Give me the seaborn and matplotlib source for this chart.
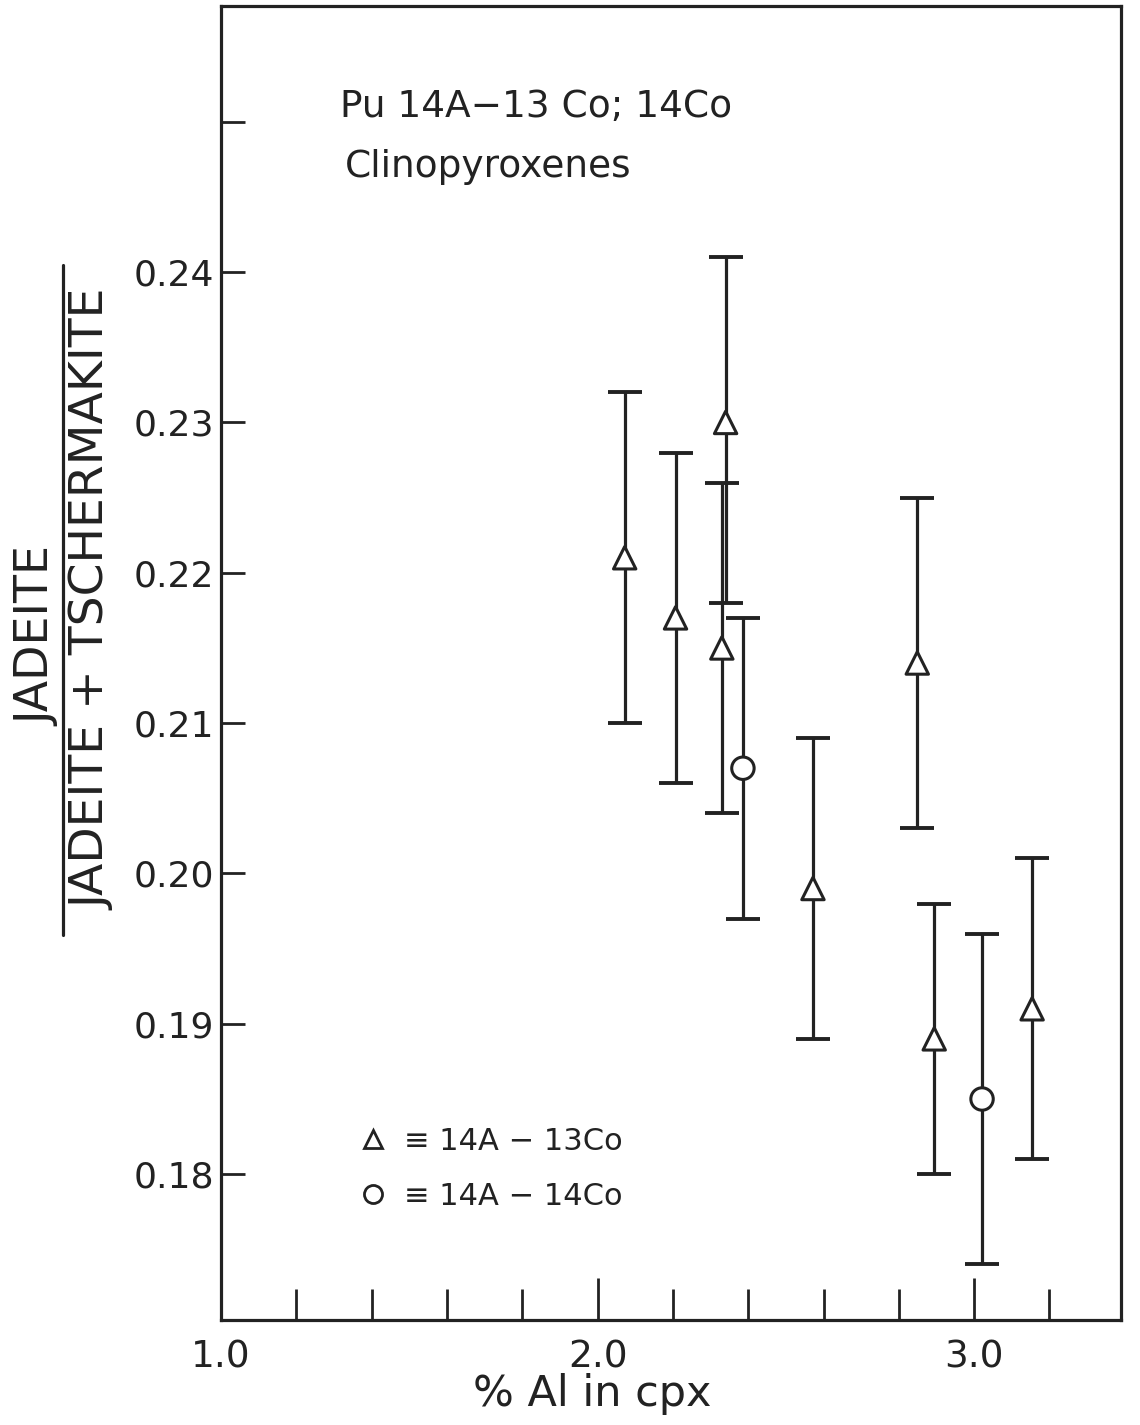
import numpy as np
import pandas as pd
import matplotlib
matplotlib.use("Agg")
import matplotlib.pyplot as plt
import seaborn as sns
from matplotlib.lines import Line2D
from matplotlib.ticker import FixedLocator

# ---------------- data ----------------
sample = ["14A-13Co"] * 8 + ["14A-14Co"] * 2
al_pct = [2.072, 2.207, 2.340, 2.330, 2.572, 2.849, 2.894, 3.154, 2.386, 3.021]
ratio = [0.221, 0.217, 0.230, 0.215, 0.199, 0.214, 0.189, 0.191, 0.207, 0.185]
ratio_low = [0.210, 0.206, 0.218, 0.204, 0.189, 0.203, 0.180, 0.181, 0.197, 0.174]
ratio_high = [0.232, 0.228, 0.241, 0.226, 0.209, 0.225, 0.198, 0.201, 0.217, 0.196]

y_tick_values = [0.18, 0.19, 0.20, 0.21, 0.22, 0.23, 0.24, 0.25]
y_tick_labels = ["0.18", "0.19", "0.20", "0.21", "0.22", "0.23", "0.24", ""]
x_major_values = [1.0, 2.0, 3.0]
x_major_labels = ["1.0", "2.0", "3.0"]
x_minor_values = [1.2, 1.4, 1.6, 1.8, 2.2, 2.4, 2.6, 2.8, 3.2]

title_lines = ["Pu 14A\u221213 Co; 14Co", "Clinopyroxenes"]
legend_labels = ["\u2261 14A \u2212 13Co", "\u2261 14A \u2212 14Co"]
x_label = "% Al in cpx"
y_num = "JADEITE"
y_den = "JADEITE + TSCHERMAKITE"

df = pd.DataFrame({"sample": sample, "al": al_pct, "ratio": ratio,
                   "lo": ratio_low, "hi": ratio_high})

# ---------------- style ----------------
sns.set_style("ticks")
plt.rcParams["font.family"] = ["DejaVu Sans"]
INK = "#222222"

fig = plt.figure(figsize=(11.4, 14.25), dpi=100)
ax = fig.add_axes([221 / 1140, 105 / 1425, 900 / 1140, 1314 / 1425])

# error bars
ax.errorbar(df["al"], df["ratio"],
            yerr=[df["ratio"] - df["lo"], df["hi"] - df["ratio"]],
            fmt="none", ecolor=INK, elinewidth=2.3, capsize=12, capthick=2.8,
            zorder=2)

# markers
sns.scatterplot(data=df, x="al", y="ratio", style="sample",
                markers={"14A-13Co": "^", "14A-14Co": "o"},
                s=260, color="white", edgecolor=INK, linewidth=2.2,
                legend=False, zorder=3, ax=ax)

ax.set_xlim(1.0, 3.39)
ax.set_ylim(0.1703, 0.2577)

# ticks
ax.yaxis.set_major_locator(FixedLocator(y_tick_values))
ax.set_yticklabels(y_tick_labels)
ax.xaxis.set_major_locator(FixedLocator(x_major_values))
ax.set_xticklabels(x_major_labels)
ax.xaxis.set_minor_locator(FixedLocator(x_minor_values))
ax.tick_params(axis="y", which="major", direction="in", length=17, width=2,
               color=INK, labelsize=26, pad=5, labelcolor=INK,
               left=True, right=False)
ax.tick_params(axis="x", which="major", direction="in", length=30, width=2,
               color=INK, labelsize=27, pad=14, labelcolor=INK,
               bottom=True, top=False)
ax.tick_params(axis="x", which="minor", direction="in", length=22, width=2,
               color=INK, bottom=True, top=False)

for sp in ax.spines.values():
    sp.set_visible(True)
    sp.set_linewidth(2.3)
    sp.set_color(INK)

ax.set_xlabel(x_label, fontsize=31, color=INK)
ax.xaxis.set_label_coords((592 - 221) / 900, -0.040)
ax.set_ylabel("")

# y label as a fraction
fig.text(38 / 1140, (1425 - 637) / 1425, y_num, rotation=90, fontsize=33,
         ha="center", va="center", color=INK)
fig.text(93 / 1140, (1425 - 600) / 1425, y_den, rotation=90, fontsize=34,
         ha="center", va="center", color=INK)
fig.add_artist(Line2D([63 / 1140, 63 / 1140],
                      [(1425 - 265) / 1425, (1425 - 935) / 1425],
                      transform=fig.transFigure, color=INK, linewidth=2.3))

# annotation text
fig.text(340 / 1140, (1425 - 117) / 1425, title_lines[0], fontsize=27,
         ha="left", va="baseline", color=INK)
fig.text(345 / 1140, (1425 - 177) / 1425, title_lines[1], fontsize=27,
         ha="left", va="baseline", color=INK)

# legend
handles = [Line2D([], [], marker="^", linestyle="none", markersize=13,
                  markerfacecolor="white", markeredgecolor=INK,
                  markeredgewidth=2),
           Line2D([], [], marker="o", linestyle="none", markersize=13,
                  markerfacecolor="white", markeredgecolor=INK,
                  markeredgewidth=2)]
ax.legend(handles, legend_labels, loc="center left",
          bbox_to_anchor=((358 - 221) / 900, (1320 - 1169) / 1314),
          frameon=False, fontsize=22, handlelength=1.0, handletextpad=0.5,
          labelspacing=0.85, borderpad=0, borderaxespad=0, labelcolor=INK)

fig.savefig("out.png", dpi=100, facecolor="white")
